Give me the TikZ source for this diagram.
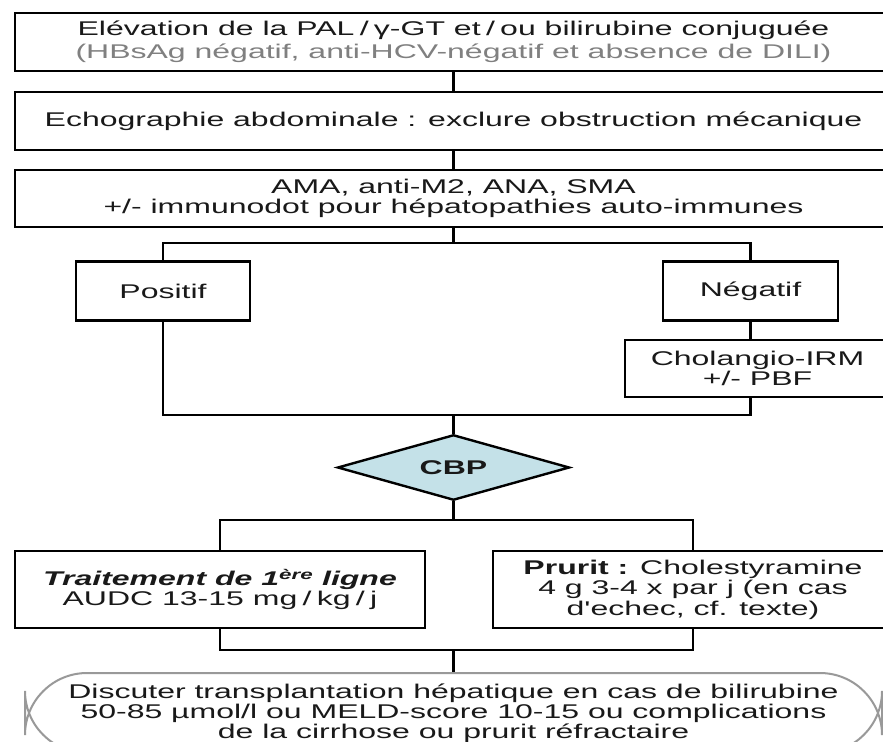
\documentclass[tikz,border=0pt]{standalone}
\usepackage{fontspec}
\setmainfont{Liberation Sans}
\usetikzlibrary{shapes.geometric}

\definecolor{cbpblue}{RGB}{196,225,232}
\definecolor{txtgrey}{RGB}{128,128,128}

\begin{document}
\begin{tikzpicture}[x=1pt, y=-1.6129pt, yscale=0.62, transform shape,
    box/.style={draw, line width=2.6pt, inner sep=0pt, align=center, text=black!90,
      font=\fontsize{32}{33}\selectfont},
    link/.style={line width=2.6pt}]

    \path[use as bounding box, fill=white] (0,0) rectangle (883,742);
    \clip (0,0) rectangle (883,742);

    % Work-up
    \node[box, minimum width=877pt, minimum height=93.5pt, font=\fontsize{32}{37}\selectfont] (elev) at (453.5,42)
        {Elévation de la PAL\,/\,γ-GT et\,/\,ou bilirubine conjuguée\\
         \textcolor{txtgrey}{(HBsAg négatif, anti-HCV-négatif et absence de DILI)}};
    \node[box, minimum width=877pt, minimum height=93.5pt] (echo) at (453.5,121)
        {Echographie abdominale : exclure obstruction mécanique};
    \node[box, minimum width=877pt, minimum height=92pt] (ama) at (453.5,198.5)
        {AMA, anti-M2, ANA, SMA\\+/- immunodot pour hépatopathies auto-immunes};

    % Serology result
    \node[box, minimum width=174pt, minimum height=95pt] (pos) at (163,291) {Positif};
    \node[box, minimum width=175pt, minimum height=95pt] (neg) at (750.5,291) {Négatif};
    \node[box, minimum width=265pt, minimum height=92pt] (chol) at (757.5,368.5) {Cholangio-IRM\\+/- PBF};

    % Diagnosis
    \node[diamond, draw, fill=cbpblue, line width=2.4pt, minimum width=232pt, minimum height=105pt,
        inner sep=0pt, text=black!90, font=\bfseries\fontsize{32}{33}\selectfont] (cbp) at (453.5,467.5) {CBP};

    % Treatment
    \node[box, minimum width=410pt, minimum height=124pt] (trait) at (220,589.5)
        {\textbf{\textit{Traitement de 1\textsuperscript{ère} ligne}}\\AUDC 13-15 mg\,/\,kg\,/\,j};
    \node[box, minimum width=400pt, minimum height=124pt, font=\fontsize{32}{33}\selectfont] (prur) at (693,589.5)
        {\textbf{Prurit :} Cholestyramine\\4 g 3-4 x par j (en cas\\d\textquotesingle echec, cf. texte)};

    % Transplantation
    \node[box, draw=black!40, line width=2pt, rounded corners=62pt, minimum width=857pt, minimum height=129pt,
        font=\fontsize{32}{32}\selectfont] (disc) at (453.5,713)
        {Discuter transplantation hépatique en cas de bilirubine\\
         50-85 µmol/l ou MELD-score 10-15 ou complications\\
         de la cirrhose ou prurit réfractaire};

    % Branch points
    \coordinate (split1) at (453.5,243);
    \coordinate (merge1) at (453.5,415);
    \coordinate (split2) at (453.5,520);
    \coordinate (merge2) at (453.5,650);

    % Connectors
    \draw[link] (elev) -- (echo);
    \draw[link] (echo) -- (ama);
    \draw[link] (ama) -- (split1);
    \draw[link] (pos) |- (split1) -| (neg);
    \draw[link] (neg.south) -- (neg.south |- chol.north);
    \draw[link] (pos) |- (merge1) -| (neg.south |- chol.south);
    \draw[link] (merge1) -- (cbp);
    \draw[link] (cbp) -- (split2);
    \draw[link] (trait) |- (split2) -| (prur);
    \draw[link] (trait) |- (merge2) -| (prur);
    \draw[link] (merge2) -- (disc);

\end{tikzpicture}
\end{document}
